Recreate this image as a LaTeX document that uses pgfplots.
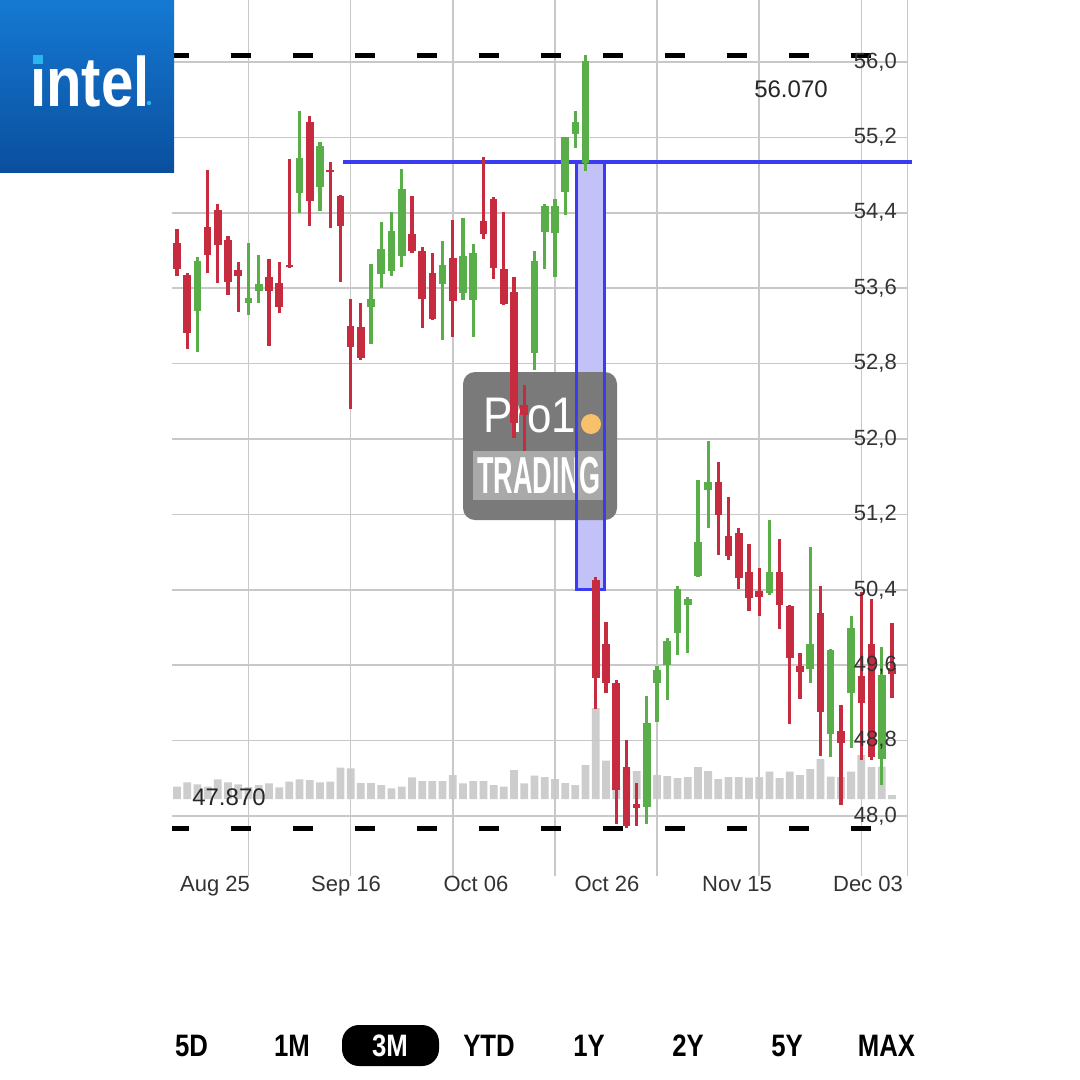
\documentclass[border=0pt]{standalone}
\usepackage{graphicx}
\usepackage{pgfplots}
\pgfplotsset{compat=1.18}
\usepackage{pgfplotstable}
\usepackage{fontspec}
\setmainfont{Liberation Sans}
\definecolor{cred}{HTML}{C62B40}
\definecolor{cgreen}{HTML}{5AAE4A}
\definecolor{gridgray}{HTML}{C8C8C8}
\definecolor{volgray}{HTML}{CDCDCD}
\definecolor{lblgray}{HTML}{333333}
\definecolor{bluel}{HTML}{3B3BF2}
\definecolor{bluefill}{HTML}{C2C2F8}
\definecolor{wmgray}{HTML}{7A7A7A}
\definecolor{wmband}{HTML}{A9A9A9}
\definecolor{wmdot}{HTML}{F7C06B}
\definecolor{inteltop}{HTML}{1579D3}
\definecolor{intelbot}{HTML}{0A4F9E}
\definecolor{inteldot}{HTML}{2BB5EE}

% down (red) candles
\pgfplotstableread{
i open high low close
0 54.08 54.23 53.73 53.81
1 53.74 53.76 52.96 53.13
3 54.25 54.86 53.76 53.95
4 54.43 54.49 53.66 54.06
5 54.11 54.15 53.53 53.67
6 53.79 53.88 53.35 53.73
9 53.72 53.91 52.99 53.57
10 53.65 53.88 53.34 53.40
11 53.85 54.97 53.81 53.83
13 55.36 55.43 54.26 54.53
15 54.85 54.94 54.24 54.83
16 54.58 54.59 53.67 54.26
17 53.20 53.49 52.32 52.98
18 53.19 53.44 52.84 52.86
23 54.18 54.58 53.97 54.00
24 54.00 54.04 53.18 53.49
25 53.76 53.97 53.26 53.27
27 53.92 54.32 53.08 53.47
30 54.31 54.99 54.12 54.18
31 54.55 54.57 53.70 53.81
32 53.80 54.41 53.42 53.43
33 53.56 53.72 52.01 52.17
34 52.36 52.57 51.87 52.26
41 50.50 50.54 49.14 49.46
42 49.82 50.06 49.31 49.41
43 49.41 49.44 47.92 48.28
44 48.52 48.81 47.87 47.89
45 48.13 48.35 47.89 48.08
53 51.54 51.76 50.77 51.19
54 50.97 51.38 50.72 50.76
55 51.00 51.06 50.41 50.53
56 50.59 50.89 50.18 50.31
57 50.39 50.63 50.12 50.33
59 50.59 50.94 49.98 50.24
60 50.23 50.24 48.98 49.68
61 49.59 49.73 49.24 49.53
63 50.15 50.44 48.64 49.10
65 48.90 49.18 48.12 48.78
67 49.49 50.38 48.59 49.20
68 49.83 50.30 48.59 48.63
70 49.57 50.05 49.25 49.51
}\downdata

% up (green) candles
\pgfplotstableread{
i open high low close
2 53.36 53.93 52.92 53.89
7 53.44 54.08 53.32 53.50
8 53.57 53.95 53.44 53.65
12 54.61 55.48 54.40 54.98
14 54.67 55.15 54.42 55.11
19 53.40 53.86 53.01 53.49
20 53.75 54.30 53.60 54.02
21 53.78 54.41 53.73 54.21
22 53.94 54.86 53.82 54.65
26 53.65 54.10 53.05 53.85
28 53.55 54.34 53.48 53.94
29 53.48 54.07 53.08 53.97
35 52.91 53.99 52.73 53.89
36 54.20 54.49 53.81 54.47
37 54.19 54.55 53.72 54.47
38 54.62 55.21 54.38 55.20
39 55.24 55.48 55.09 55.36
40 54.93 56.07 54.84 56.01
46 48.10 49.27 47.92 48.99
47 49.41 49.59 49.00 49.55
48 49.60 49.89 49.23 49.86
49 49.94 50.44 49.71 50.41
50 50.24 50.33 49.73 50.30
51 50.55 51.57 50.54 50.91
52 51.46 51.98 51.06 51.54
58 50.37 51.14 50.35 50.59
62 49.56 50.85 49.41 49.82
64 48.87 49.77 48.63 49.76
66 49.30 50.12 48.72 49.99
69 48.61 49.79 48.33 49.50
}\updata

% volume (millions)
\pgfplotstableread{
i v
0 12.3
1 16.7
2 14.7
3 12.3
4 19.7
5 16.7
6 14.7
7 12
8 14
9 15.7
10 11.7
11 17.3
12 19.7
13 19
14 16.7
15 17.3
16 31.3
17 30.7
18 16
19 16
20 14
21 10.7
22 12.3
23 21.7
24 18
25 18
26 18
27 24
28 15.7
29 18
30 18
31 14
32 12.3
33 29
34 15.7
35 23.3
36 22
37 20
38 16
39 14
40 34
41 91
42 38.3
43 30
44 30
45 28
46 25
47 24
48 23
49 21
50 22
51 32
52 28
53 20
54 22
55 22
56 21.5
57 22
58 27.5
59 21
60 27.5
61 24
62 30
63 40
64 22.5
65 22
66 27.5
67 44
68 32
69 32.5
70 4
}\voldata

\pgfplotsset{
  basechart/.style={
    at={(171.9pt,-876pt)}, anchor=south west,
    scale only axis, width=735.4pt, height=876pt,
    xmin=-0.5, xmax=71.5,
  },
  pricey/.style={ymin=47.3634, ymax=56.6578},
  candle/.style 2 args={draw=none, mark=none, mark size=0pt, forget plot,
    error bars/.cd, y dir=both, y explicit, error mark=none,
    error bar style={draw=#1, line width=#2}},
}

\begin{document}
\begin{tikzpicture}
\path[use as bounding box, fill=white] (0pt,0pt) rectangle (1080pt,-1080pt);

% volume
\begin{axis}[basechart, ymin=-77, ymax=799, hide axis, ybar, bar width=0.76]
\addplot[fill=volgray, draw=none] table[x=i, y=v] {\voldata};
\end{axis}

% grid
\begin{axis}[basechart, pricey, clip=false,
  axis line style={draw=none}, tick style={draw=none}, major tick length=0pt,
  xtick={7,17,27,37,47,57,67},
  ytick={48,48.8,49.6,50.4,51.2,52,52.8,53.6,54.4,55.2,56},
  xticklabels={}, yticklabels={},
  grid=major, major grid style={draw=gridgray, line width=1.5pt}]
\draw[gridgray, line width=1.5pt] (axis cs:71.5,47.3634) -- (axis cs:71.5,56.6578);
\fill[bluefill] (axis cs:39.1,50.40) rectangle (axis cs:41.9,54.94);
\end{axis}

% watermark
\begin{scope}[x=1pt, y=-1pt]
\fill[wmgray, rounded corners=12pt] (463,372) rectangle (617,520);
\fill[wmband] (473,451) rectangle (604,500);
\node[text=white, inner sep=0pt, font=\fontsize{50}{50}\selectfont] at (530,416) {\scalebox{0.88}[1]{Pro1}};
\fill[wmdot] (591,424) circle (10);
\node[text=white, inner sep=0pt, font=\fontsize{52}{52}\selectfont\bfseries] at (539,476) {\scalebox{0.52}[1]{TRADING}};
\end{scope}

% candles
\begin{axis}[basechart, pricey, hide axis, clip=false]
\draw[black, line width=5pt, dash pattern=on 20pt off 42pt, dash phase=3pt] (axis cs:-0.5,56.07) -- (axis cs:71.5,56.07);
\draw[black, line width=5pt, dash pattern=on 20pt off 42pt, dash phase=3pt] (axis cs:-0.5,47.87) -- (axis cs:71.5,47.87);
\draw[bluel, line width=3pt] (axis cs:39.1,50.40) rectangle (axis cs:41.9,54.94);
\draw[bluel, line width=3.5pt] (axis cs:16.25,54.94) -- (axis cs:71.96,54.94);
% wicks
\addplot[candle={cred}{3.2pt}]
  table[x=i, y expr={(\thisrow{high}+\thisrow{low})/2}, y error expr={(\thisrow{high}-\thisrow{low})/2}] {\downdata};
\addplot[candle={cgreen}{3.2pt}]
  table[x=i, y expr={(\thisrow{high}+\thisrow{low})/2}, y error expr={(\thisrow{high}-\thisrow{low})/2}] {\updata};
% bodies
\addplot[candle={cred}{7.6pt}]
  table[x=i, y expr={(\thisrow{open}+\thisrow{close})/2}, y error expr={abs(\thisrow{open}-\thisrow{close})/2}] {\downdata};
\addplot[candle={cgreen}{7.6pt}]
  table[x=i, y expr={(\thisrow{open}+\thisrow{close})/2}, y error expr={abs(\thisrow{open}-\thisrow{close})/2}] {\updata};
\end{axis}

% labels
\begin{axis}[basechart, pricey,
  axis line style={draw=none}, tick style={draw=none}, major tick length=0pt,
  xtick={3.72,16.55,29.27,42.1,54.83,67.65},
  xticklabels={Aug 25,Sep 16,Oct 06,Oct 26,Nov 15,Dec 03},
  ytick={48,48.8,49.6,50.4,51.2,52,52.8,53.6,54.4,55.2,56},
  yticklabels={{48,0},{48,8},{49,6},{50,4},{51,2},{52,0},{52,8},{53,6},{54,4},{55,2},{56,0}},
  yticklabel pos=right,
  yticklabel style={anchor=east, xshift=-7pt},
  xticklabel style={yshift=3pt},
  tick label style={font=\fontsize{22}{26}\selectfont, text=lblgray}]
\end{axis}

\begin{scope}[x=1pt, y=-1pt]
\node[text=black!85, font=\fontsize{24}{28}\selectfont, inner sep=0pt] at (791,89) {56.070};
\node[text=black!85, font=\fontsize{24}{28}\selectfont, inner sep=0pt] at (229,797) {47.870};
% logo
\shade[top color=inteltop, bottom color=intelbot] (0,0) rectangle (174,172);
\node[anchor=base west, inner sep=0pt, text=white, font=\fontsize{70}{70}\selectfont\bfseries] at (30,106) {\scalebox{0.83}[1]{ıntel}};
\fill[inteldot] (33,55) rectangle (43,64);
\fill[inteldot] (149,103) circle (2.2);
% range buttons
\fill[black, rounded corners=17pt] (342,1025) rectangle (439,1066);
\foreach \t/\xx in {5D/191.5, 1M/292, YTD/489, 1Y/589, 2Y/688, 5Y/787, MAX/886.5}{
  \node[text=black, inner sep=0pt, font=\fontsize{31}{31}\selectfont\bfseries] at (\xx,1046) {\scalebox{0.83}[1]{\t}};
}
\node[text=white, inner sep=0pt, font=\fontsize{31}{31}\selectfont\bfseries] at (390,1046) {\scalebox{0.83}[1]{3M}};
\end{scope}
\end{tikzpicture}
\end{document}
